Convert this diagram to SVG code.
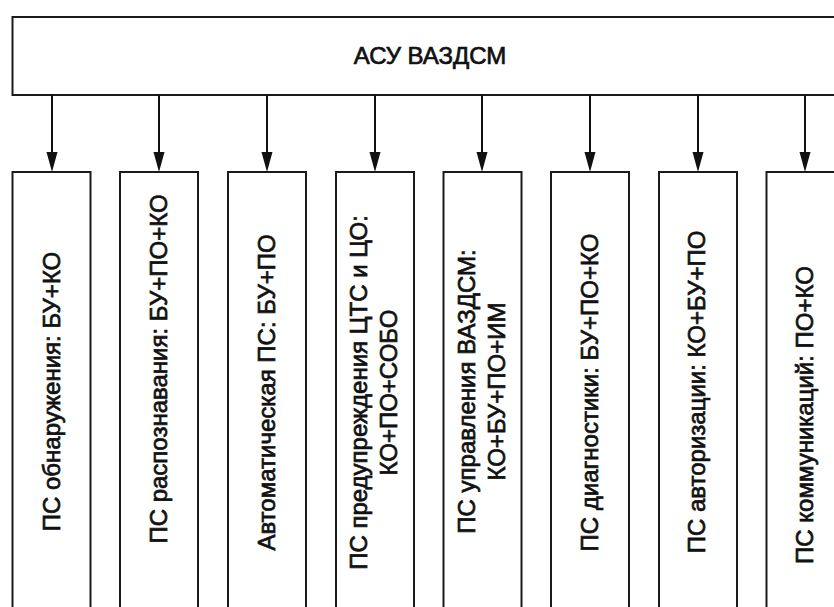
<svg xmlns="http://www.w3.org/2000/svg" width="834" height="607" viewBox="0 0 834 607">
<style>
.box{fill:#fff;stroke:#1a1a1a;stroke-width:2}
.t{font-family:"Liberation Sans",Arial,sans-serif;font-size:24px;font-weight:normal;fill:#111;stroke:#111;stroke-width:0.7;text-anchor:middle}
.c{stroke:#111;stroke-width:2;fill:none}
.h{fill:#111}
</style>
<rect width="834" height="607" fill="#fff"/>
<g id="root">
<rect class="box" x="12.5" y="17" width="840" height="78"/>
<text class="t" x="430" y="64" font-size="23">АСУ ВАЗДСМ</text>
</g>
<g id="connectors">
<line class="c" x1="52" y1="95" x2="52" y2="155"/><polygon class="h" points="46.5,152 57.5,152 52,172"/>
<line class="c" x1="159" y1="95" x2="159" y2="155"/><polygon class="h" points="153.5,152 164.5,152 159,172"/>
<line class="c" x1="267" y1="95" x2="267" y2="155"/><polygon class="h" points="261.5,152 272.5,152 267,172"/>
<line class="c" x1="375" y1="95" x2="375" y2="155"/><polygon class="h" points="369.5,152 380.5,152 375,172"/>
<line class="c" x1="482" y1="95" x2="482" y2="155"/><polygon class="h" points="476.5,152 487.5,152 482,172"/>
<line class="c" x1="590" y1="95" x2="590" y2="155"/><polygon class="h" points="584.5,152 595.5,152 590,172"/>
<line class="c" x1="698" y1="95" x2="698" y2="155"/><polygon class="h" points="692.5,152 703.5,152 698,172"/>
<line class="c" x1="805" y1="95" x2="805" y2="155"/><polygon class="h" points="799.5,152 810.5,152 805,172"/>
</g>
<g id="n1">
<rect class="box" x="12.5" y="172" width="78" height="450"/>
<text class="t" x="60" y="391.5" transform="rotate(-90 60 391.5)">ПС обнаружения: БУ+КО</text>
</g>
<g id="n2">
<rect class="box" x="120" y="172" width="78" height="450"/>
<text class="t" x="167" y="369" transform="rotate(-90 167 369)">ПС распознавания: БУ+ПО+КО</text>
</g>
<g id="n3">
<rect class="box" x="228" y="172" width="78" height="450"/>
<text class="t" x="275" y="392.5" transform="rotate(-90 275 392.5)">Автоматическая ПС: БУ+ПО</text>
</g>
<g id="n4">
<rect class="box" x="336" y="172" width="78" height="450"/>
<text class="t" x="367" y="392.5" transform="rotate(-90 367 392.5)">ПС предупреждения ЦТС и ЦО:</text>
<text class="t" x="397" y="392.5" transform="rotate(-90 397 392.5)">КО+ПО+СОБО</text>
</g>
<g id="n5">
<rect class="box" x="443.5" y="172" width="78" height="450"/>
<text class="t" x="475" y="391.5" transform="rotate(-90 475 391.5)">ПС управления ВАЗДСМ:</text>
<text class="t" x="505" y="391.5" transform="rotate(-90 505 391.5)">КО+БУ+ПО+ИМ</text>
</g>
<g id="n6">
<rect class="box" x="551" y="172" width="78" height="450"/>
<text class="t" x="598" y="392.5" transform="rotate(-90 598 392.5)">ПС диагностики: БУ+ПО+КО</text>
</g>
<g id="n7">
<rect class="box" x="659" y="172" width="78" height="450"/>
<text class="t" x="705" y="392" transform="rotate(-90 705 392)">ПС авторизации: КО+БУ+ПО</text>
</g>
<g id="n8">
<rect class="box" x="766.5" y="172" width="78" height="450"/>
<text class="t" x="813" y="415" transform="rotate(-90 813 415)">ПС коммуникаций: ПО+КО</text>
</g>
</svg>
